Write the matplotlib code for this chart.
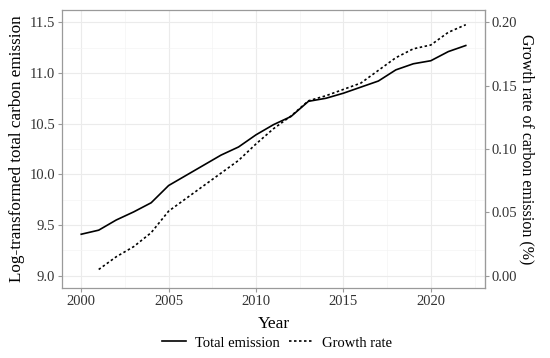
import matplotlib
matplotlib.use("Agg")
import matplotlib.pyplot as plt
from matplotlib.ticker import MultipleLocator, FixedLocator

years_total = list(range(2000, 2023))
total_emission = [9.41, 9.45, 9.55, 9.63, 9.72, 9.89, 9.99, 10.09, 10.19, 10.27,
                  10.39, 10.49, 10.57, 10.72, 10.75, 10.80, 10.86, 10.92, 11.03,
                  11.09, 11.12, 11.21, 11.27]
years_growth = list(range(2001, 2023))
growth_rate = [0.005, 0.015, 0.023, 0.034, 0.051, 0.061, 0.071, 0.081, 0.091,
               0.104, 0.116, 0.126, 0.138, 0.142, 0.147, 0.152, 0.162, 0.172,
               0.179, 0.182, 0.192, 0.198]
right_ticks = [0.00, 0.05, 0.10, 0.15, 0.20]

plt.rcParams['font.family'] = ['Liberation Serif', 'DejaVu Serif']

fig = plt.figure(figsize=(5.5, 3.58), dpi=100)
ax = fig.add_axes([62/550, 1-288/358, (485-62)/550, (288-10)/358])

scale = 0.08  # right = (left - 9) * 0.08
ax.plot(years_total, total_emission, color='black', lw=1.2, label='Total emission')
ax.plot(years_growth, [9 + g/scale for g in growth_rate], color='black', lw=1.2,
        linestyle=(0, (1.5, 1.5)), label='Growth rate')

ax.set_xlim(1998.9, 2023.1)
ax.set_ylim(8.88, 11.62)
ax.xaxis.set_major_locator(MultipleLocator(5))
ax.xaxis.set_minor_locator(MultipleLocator(2.5))
ax.yaxis.set_major_locator(MultipleLocator(0.5))
ax.yaxis.set_minor_locator(MultipleLocator(0.25))
ax.yaxis.set_major_formatter(matplotlib.ticker.FormatStrFormatter('%.1f'))
ax.grid(which='major', color='#EBEBEB', lw=0.8)
ax.grid(which='minor', color='#F4F4F4', lw=0.5)
ax.set_axisbelow(True)
for s in ax.spines.values():
    s.set_color('#9A9A9A')
    s.set_linewidth(0.9)
ax.tick_params(which='major', length=3, color='#9A9A9A', labelsize=10.5, pad=2)
ax.tick_params(which='minor', length=0)
ax.tick_params(axis='both', labelcolor='#333333')

ax2 = ax.secondary_yaxis('right', functions=(lambda v: (v - 9) * scale, lambda r: 9 + r / scale))
ax2.yaxis.set_major_locator(FixedLocator(right_ticks))
ax2.yaxis.set_minor_locator(FixedLocator([]))
ax2.yaxis.set_major_formatter(matplotlib.ticker.FormatStrFormatter('%.2f'))
ax2.tick_params(length=3, color='#9A9A9A', labelsize=10.5, pad=2, labelcolor='#333333')
ax2.spines['right'].set_color('#9A9A9A')
ax2.set_ylabel('Growth rate of carbon emission (%)', fontsize=11.5, rotation=270, labelpad=12)

ax.set_xlabel('Year', fontsize=12.5, labelpad=6)
ax.set_ylabel('Log-transformed total carbon emission', fontsize=12.3, labelpad=3)

fig.legend(loc='center', bbox_to_anchor=(277/550, 1-343/358), ncol=2, frameon=False,
           fontsize=10.5, handlelength=1.6, columnspacing=0.7, handletextpad=0.6)

fig.savefig('out.png', dpi=100)
